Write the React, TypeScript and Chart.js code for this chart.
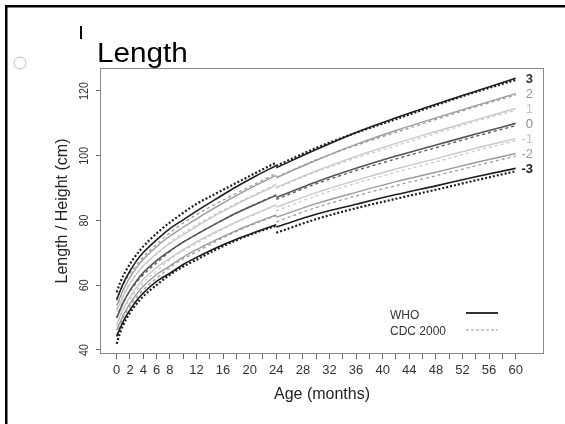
import React, { useEffect, useRef } from "react";
import { Chart, registerables } from "chart.js";

Chart.register(...registerables);

// z-scores, rows ordered -3 .. +3
const zLabels = ["-3", "-2", "-1", "0", "1", "2", "3"];

// WHO boys, length (0-24 months)
const whoLengthAges = [0, 1, 2, 3, 4, 6, 8, 10, 12, 15, 18, 21, 24];
const whoLength = [
  [44.2, 48.9, 52.4, 55.3, 57.6, 61.2, 63.7, 66.4, 68.6, 71.6, 74.2, 76.5, 78.7],
  [46.1, 50.8, 54.4, 57.3, 59.7, 63.3, 66.0, 68.7, 71.0, 74.1, 76.9, 79.4, 81.7],
  [48.0, 52.8, 56.4, 59.4, 61.8, 65.5, 68.3, 71.0, 73.4, 76.6, 79.6, 82.3, 84.8],
  [49.9, 54.7, 58.4, 61.4, 63.9, 67.6, 70.6, 73.3, 75.7, 79.1, 82.3, 85.1, 87.8],
  [51.8, 56.7, 60.4, 63.5, 66.0, 69.8, 72.9, 75.6, 78.1, 81.7, 85.0, 88.0, 90.9],
  [53.7, 58.6, 62.4, 65.5, 68.0, 71.9, 75.2, 77.9, 80.5, 84.2, 87.7, 90.9, 93.9],
  [55.6, 60.6, 64.4, 67.6, 70.1, 74.0, 77.5, 80.2, 82.9, 86.7, 90.4, 93.8, 97.0],
];

// WHO boys, height (24-60 months)
const whoHeightAges = [24, 30, 36, 42, 48, 54, 60];
const whoHeight = [
  [78.0, 81.9, 85.0, 88.0, 90.7, 93.5, 96.1],
  [81.0, 85.2, 88.7, 92.0, 94.9, 97.9, 100.7],
  [84.1, 88.6, 92.4, 95.9, 99.1, 102.3, 105.3],
  [87.1, 91.9, 96.1, 99.9, 103.3, 106.7, 110.0],
  [90.2, 95.3, 99.8, 103.8, 107.5, 111.1, 114.6],
  [93.2, 98.6, 103.5, 107.8, 111.7, 115.5, 119.2],
  [96.3, 101.9, 107.2, 111.7, 115.9, 119.9, 123.9],
];

// CDC 2000 boys, length (0-24 months)
const cdcLengthAges = [0, 0.5, 1.5, 3.5, 6.5, 9, 12, 15, 18, 21, 24];
const cdcLength = [
  [41.9, 45.3, 49.8, 55.5, 60.9, 64.6, 67.9, 71.1, 73.9, 76.3, 78.4],
  [44.6, 47.7, 51.9, 57.5, 63.0, 66.9, 70.3, 73.6, 76.6, 79.2, 81.5],
  [47.3, 50.2, 54.2, 59.7, 65.3, 69.4, 72.9, 76.3, 79.4, 82.1, 84.7],
  [50.0, 52.7, 56.6, 62.1, 67.8, 72.0, 75.7, 79.1, 82.3, 85.2, 87.9],
  [52.6, 55.3, 59.2, 64.7, 70.5, 74.8, 78.6, 82.1, 85.3, 88.3, 91.2],
  [55.2, 58.0, 62.0, 67.6, 73.6, 77.8, 81.8, 85.2, 88.4, 91.5, 94.5],
  [57.8, 60.7, 64.9, 70.8, 76.9, 80.9, 85.1, 88.4, 91.6, 94.8, 97.9],
];

// CDC 2000 boys, stature (24-60 months)
const cdcHeightAges = [24, 30, 36, 42, 48, 54, 60];
const cdcHeight = [
  [76.2, 80.4, 83.8, 86.7, 89.5, 92.4, 95.2],
  [79.6, 84.0, 87.6, 90.8, 93.8, 96.9, 99.9],
  [83.0, 87.6, 91.5, 94.9, 98.1, 101.5, 104.6],
  [86.5, 91.3, 95.4, 99.0, 102.5, 106.0, 109.3],
  [90.0, 95.0, 99.3, 103.1, 106.9, 110.6, 114.0],
  [93.4, 98.7, 103.2, 107.2, 111.2, 115.1, 118.7],
  [96.9, 102.4, 107.1, 111.3, 115.6, 119.7, 123.4],
];

const xTickValues = [0, 2, 4, 6, 8, 10, 12, 14, 16, 18, 20, 22, 24, 26, 28, 30, 32, 34, 36, 38, 40, 42, 44, 46, 48, 50, 52, 54, 56, 58, 60];
const xTickLabels = [0, 2, 4, 6, 8, 12, 16, 20, 24, 28, 32, 36, 40, 44, 48, 52, 56, 60];
const yTickValues = [40, 60, 80, 100, 120];

const FONT = "'Liberation Sans', Arial, Helvetica, sans-serif";
const lineColors = ["#1e1e1e", "#9a9a9a", "#c8c8c8", "#555555", "#c8c8c8", "#9a9a9a", "#1e1e1e"];
const labelColors = ["#222222", "#9a9a9a", "#c4c4c4", "#8a8a8a", "#c4c4c4", "#9a9a9a", "#333333"];

function pts(ages: number[], vals: number[]) {
  return ages.map((a, j) => ({ x: a, y: vals[j] }));
}

const decor = {
  id: "decor",
  beforeDraw(chart: any) {
    const ctx = chart.ctx;
    ctx.save();
    ctx.fillStyle = "#ffffff";
    ctx.fillRect(0, 0, chart.width, chart.height);
    ctx.restore();
  },
  afterDraw(chart: any) {
    const ctx = chart.ctx as CanvasRenderingContext2D;
    const { left, top, right, bottom } = chart.chartArea;
    const ys = chart.scales.y;
    const xs = chart.scales.x;
    ctx.save();

    // slide frame
    ctx.fillStyle = "#000";
    ctx.fillRect(5, 5, 560, 2.5);
    ctx.fillRect(5, 5, 2.5, 419);
    ctx.fillRect(80, 26, 2, 13);

    // small circle
    ctx.strokeStyle = "#c0c0c0";
    ctx.lineWidth = 1;
    ctx.beginPath();
    ctx.arc(20, 63, 6, 0, Math.PI * 2);
    ctx.stroke();

    // title
    ctx.save();
    ctx.fillStyle = "#000";
    ctx.font = `27px ${FONT}`;
    ctx.textAlign = "left";
    ctx.textBaseline = "alphabetic";
    ctx.translate(97, 62);
    ctx.scale(1.1, 1);
    ctx.fillText("Length", 0, 0);
    ctx.restore();

    // plot box
    ctx.strokeStyle = "#8a8a8a";
    ctx.lineWidth = 1;
    ctx.strokeRect(left + 0.5, top + 0.5, right - left - 1, bottom - top - 1);

    // y tick labels (rotated)
    ctx.fillStyle = "#333";
    ctx.font = `13px ${FONT}`;
    ctx.textAlign = "center";
    ctx.textBaseline = "middle";
    for (const v of yTickValues) {
      const py = ys.getPixelForValue(v);
      ctx.save();
      ctx.translate(84, py);
      ctx.rotate(-Math.PI / 2);
      ctx.scale(0.82, 1);
      ctx.fillText(String(v), 0, 0);
      ctx.restore();
    }

    // axis titles
    ctx.fillStyle = "#222";
    ctx.font = `16px ${FONT}`;
    ctx.save();
    ctx.translate(63, (top + bottom) / 2);
    ctx.rotate(-Math.PI / 2);
    ctx.fillText("Length / Height (cm)", 0, 0);
    ctx.restore();
    ctx.fillText("Age (months)", (left + right) / 2, 395);

    // legend
    ctx.fillStyle = "#333";
    ctx.font = `12px ${FONT}`;
    ctx.textAlign = "left";
    ctx.fillText("WHO", 390, 316);
    ctx.fillText("CDC 2000", 390, 332);
    ctx.strokeStyle = "#333";
    ctx.lineWidth = 2;
    ctx.beginPath();
    ctx.moveTo(466, 313);
    ctx.lineTo(498, 313);
    ctx.stroke();
    ctx.strokeStyle = "#999";
    ctx.lineWidth = 1.2;
    ctx.setLineDash([3, 2]);
    ctx.beginPath();
    ctx.moveTo(466, 330);
    ctx.lineTo(498, 330);
    ctx.stroke();
    ctx.setLineDash([]);

    // z labels at right end
    ctx.textAlign = "right";
    ctx.textBaseline = "middle";
    const lx = xs.getPixelForValue(62.6);
    zLabels.forEach((lab, i) => {
      const row = whoHeight[i];
      const py = ys.getPixelForValue(row[row.length - 1]);
      ctx.fillStyle = labelColors[i];
      ctx.font = `${i === 0 || i === 6 ? "bold " : ""}13px ${FONT}`;
      ctx.fillText(lab, lx, py + 1);
    });

    ctx.restore();
  },
};

export default function App() {
  const ref = useRef<HTMLCanvasElement>(null);

  useEffect(() => {
    const datasets: any[] = [];
    zLabels.forEach((lab, i) => {
      const edge = i === 0 || i === 6;
      const cdcStyle = {
        borderColor: lineColors[i],
        borderWidth: edge ? 2.2 : 1.3,
        borderDash: edge ? [2, 2] : [3, 3],
        pointRadius: 0,
        fill: false,
        cubicInterpolationMode: "monotone",
        order: 1,
      };
      const whoStyle = {
        borderColor: lineColors[i],
        borderWidth: edge || i === 3 ? 1.6 : 1.4,
        pointRadius: 0,
        fill: false,
        cubicInterpolationMode: "monotone",
        order: 0,
      };
      datasets.push({ label: `CDC length ${lab}`, data: pts(cdcLengthAges, cdcLength[i]), ...cdcStyle });
      datasets.push({ label: `CDC height ${lab}`, data: pts(cdcHeightAges, cdcHeight[i]), ...cdcStyle });
      datasets.push({ label: `WHO length ${lab}`, data: pts(whoLengthAges, whoLength[i]), ...whoStyle });
      datasets.push({ label: `WHO height ${lab}`, data: pts(whoHeightAges, whoHeight[i]), ...whoStyle });
    });

    const chart = new Chart(ref.current!, {
      type: "line",
      data: { datasets },
      plugins: [decor],
      options: {
        responsive: false,
        animation: false,
        devicePixelRatio: 1,
        layout: { padding: { left: 0, top: 68, right: 21, bottom: 0 } },
        plugins: { legend: { display: false }, tooltip: { enabled: false }, title: { display: false } },
        scales: {
          x: {
            type: "linear",
            min: -2.51,
            max: 64.26,
            afterBuildTicks: (s: any) => {
              s.ticks = xTickValues.map((v) => ({ value: v }));
            },
            afterFit: (s: any) => {
              s.height = 70;
            },
            grid: { drawOnChartArea: false, drawTicks: true, tickLength: 5, color: "#666", lineWidth: 1 },
            border: { display: false },
            ticks: {
              autoSkip: false,
              maxRotation: 0,
              minRotation: 0,
              color: "#333",
              padding: 4,
              font: { size: 13, family: FONT },
              callback: (v: any) => (xTickLabels.includes(Number(v)) ? String(v) : ""),
            },
          },
          y: {
            type: "linear",
            min: 38.76,
            max: 127.1,
            afterBuildTicks: (s: any) => {
              s.ticks = yTickValues.map((v) => ({ value: v }));
            },
            afterFit: (s: any) => {
              s.width = 100;
            },
            grid: { drawOnChartArea: false, drawTicks: true, tickLength: 4, color: "#666", lineWidth: 1 },
            border: { display: false },
            ticks: { color: "rgba(0,0,0,0)", callback: () => "", font: { size: 13, family: FONT } },
          },
        },
      } as any,
    });
    return () => chart.destroy();
  }, []);

  return (
    <div style={{ position: "absolute", left: 0, top: 0, width: 565, height: 424, background: "#fff" }}>
      <canvas ref={ref} width={565} height={424} style={{ display: "block", width: 565, height: 424 }} />
    </div>
  );
}
